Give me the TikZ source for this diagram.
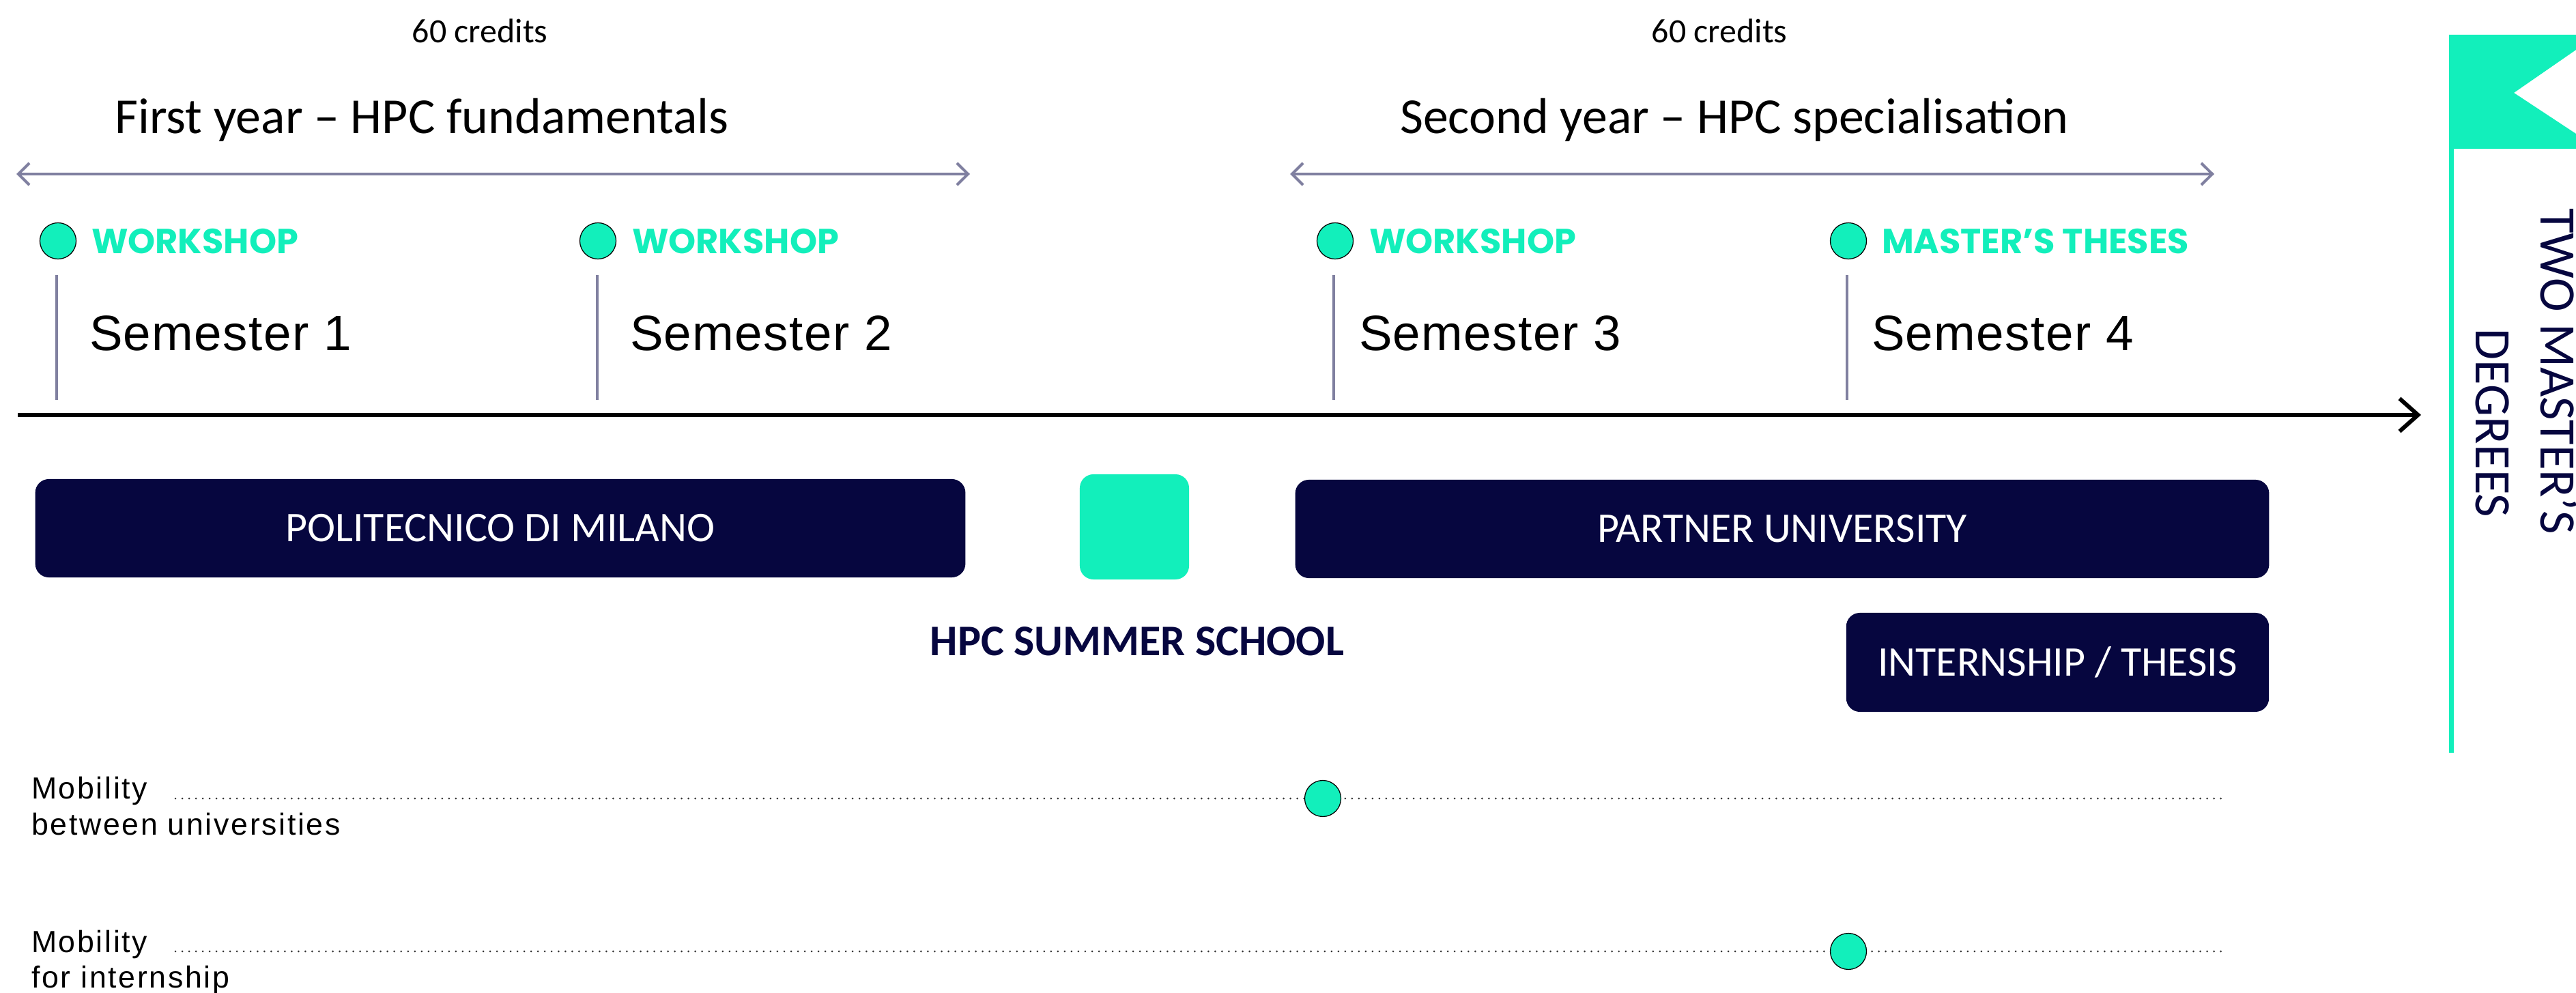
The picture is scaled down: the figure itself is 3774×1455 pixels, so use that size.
\documentclass[tikz,border=0pt]{standalone}
\usepackage{fontspec}
\setmainfont{Carlito}
\newfontfamily\semfont{Liberation Sans}[LetterSpace=2]
\newfontfamily\mobfont{Liberation Sans}[LetterSpace=6]
\newfontfamily\wsfont{Poppins}
\usetikzlibrary{arrows.meta}
\definecolor{mint}{HTML}{12EFBB}
\definecolor{navy}{HTML}{06063F}
\definecolor{lav}{HTML}{8080A0}
\begin{document}
\begin{tikzpicture}[x=0.01cm,y=-0.01cm,
  every node/.style={inner sep=0pt, outer sep=0pt},
  credits/.style={anchor=base, font=\fontsize{14.2pt}{17pt}\selectfont},
  yeartitle/.style={anchor=base, font=\fontsize{21pt}{25pt}\selectfont},
  span/.style={draw=lav, line width=1.14pt, {Straight Barb[length=4.6pt,width=9.1pt]}-{Straight Barb[length=4.6pt,width=9.1pt]}},
  dot/.style={circle, fill=mint, draw=black, line width=0.35pt, minimum size=0.53cm},
  wlabel/.style={anchor=base west, text=mint, font=\wsfont\bfseries\fontsize{14.5pt}{17pt}\selectfont},
  tick/.style={draw=lav, line width=1.4pt},
  semlabel/.style={anchor=base west, font=\semfont\fontsize{20.7pt}{25pt}\selectfont},
  axisline/.style={draw=black, line width=1.7pt, -{Straight Barb[length=7.7pt,width=13.7pt]}},
  bar/.style={fill=navy, rounded corners=0.2cm, text=white, font=\fontsize{17.6pt}{21pt}\selectfont},
  moblabel/.style={anchor=base west, font=\mobfont\fontsize{12.7pt}{15pt}\selectfont},
  dotline/.style={draw=black!80, line width=0.85pt, line cap=round, dash pattern=on 0pt off 2.85pt},
  flagtext/.style={text=navy, rotate=-90, font=\fontsize{21.3pt}{25pt}\selectfont},
]
\useasboundingbox (0,0) rectangle (3774,1455);

% headers
\node[credits] (cr1) at (703,63) {60 credits};
\node[credits] (cr2) at (2519,63) {60 credits};
\node[yeartitle] (y1) at (618,196) {First year – HPC fundamentals};
\node[yeartitle] (y2) at (2541,196) {Second year – HPC specialisation};

\coordinate (s1a) at (24,255);
\coordinate (s1b) at (1421,255);
\coordinate (s2a) at (1890,255);
\coordinate (s2b) at (3244,255);
\draw[span] (s1a) -- (s1b);
\draw[span] (s2a) -- (s2b);

% ticks
\coordinate (t1a) at (83,403);  \coordinate (t1b) at (83,586);
\coordinate (t2a) at (875,403); \coordinate (t2b) at (875,586);
\coordinate (t3a) at (1954,403); \coordinate (t3b) at (1954,586);
\coordinate (t4a) at (2706,403); \coordinate (t4b) at (2706,586);
\draw[tick] (t1a) -- (t1b);
\draw[tick] (t2a) -- (t2b);
\draw[tick] (t3a) -- (t3b);
\draw[tick] (t4a) -- (t4b);

% workshop markers
\node[dot] (d1) at (85,353) {};
\node[dot] (d2) at (876,353) {};
\node[dot] (d3) at (1956,353) {};
\node[dot] (d4) at (2708,353) {};
\node[wlabel] (w1) at (134,372) {WORKSHOP};
\node[wlabel] (w2) at (926,372) {WORKSHOP};
\node[wlabel] (w3) at (2006,372) {WORKSHOP};
\node[wlabel] (w4) at (2757,372) {MASTER’S THESES};

\node[semlabel] (sem1) at (131,514) {Semester 1};
\node[semlabel] (sem2) at (923,514) {Semester 2};
\node[semlabel] (sem3) at (1991,514) {Semester 3};
\node[semlabel] (sem4) at (2742,514) {Semester 4};

% axis
\coordinate (axL) at (26,608);
\coordinate (axR) at (3547,608);
\draw[axisline] (axL) -- (axR);

% bars
\node[bar, minimum width=13.62cm, minimum height=1.44cm] (poli) at (733,774) {POLITECNICO DI MILANO};
\node[fill=mint, rounded corners=0.2cm, minimum width=1.6cm, minimum height=1.54cm] (summer) at (1662,772) {};
\node[anchor=base, text=navy, font=\bfseries\fontsize{18.2pt}{22pt}\selectfont] (summerlbl) at (1666,960) {HPC SUMMER SCHOOL};
\node[bar, minimum width=14.26cm, minimum height=1.44cm] (partner) at (2611,775) {PARTNER UNIVERSITY};
\node[bar, minimum width=6.19cm, minimum height=1.45cm] (intern) at (3014.5,970.5) {INTERNSHIP / THESIS};

% mobility
\node[moblabel] (m1a) at (46,1170) {Mobility};
\node[moblabel] (m1b) at (46,1223) {between universities};
\node[moblabel] (m2a) at (46,1395) {Mobility};
\node[moblabel] (m2b) at (46,1447) {for internship};
\coordinate (l1a) at (257,1170); \coordinate (l1b) at (3262,1170);
\coordinate (l2a) at (257,1394); \coordinate (l2b) at (3262,1394);
\draw[dotline] (l1a) -- (l1b);
\draw[dotline] (l2a) -- (l2b);
\node[dot] (md1) at (1938,1170) {};
\node[dot] (md2) at (2708,1394) {};

% flag
\fill[mint] (3588,51) -- (3774,51) -- (3774,73) -- (3683,136) -- (3774,196) -- (3774,218) -- (3588,218) -- cycle;
\fill[mint] (3588,51) rectangle (3595,1103);
\node[flagtext] (deg1) at (3749,544) {TWO MASTER’S};
\node[flagtext] (deg2) at (3652,620) {DEGREES};
\end{tikzpicture}
\end{document}
